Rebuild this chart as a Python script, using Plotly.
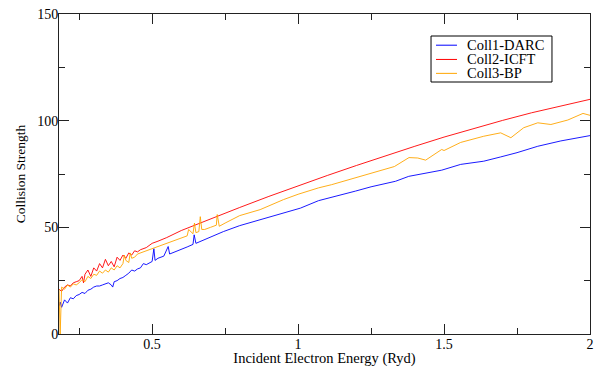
import plotly.graph_objects as go

# Coll1-DARC (blue)
x_darc = [0.181, 0.185, 0.19, 0.20, 0.21, 0.22, 0.23, 0.24, 0.25, 0.26, 0.27, 0.28, 0.29, 0.30,
          0.31, 0.32, 0.33, 0.34, 0.35, 0.36, 0.365, 0.37, 0.38, 0.39, 0.40, 0.41, 0.42, 0.43,
          0.44, 0.45, 0.46, 0.47, 0.48, 0.50, 0.506, 0.51, 0.52, 0.54, 0.555, 0.56, 0.58, 0.60,
          0.62, 0.64, 0.644, 0.65, 0.70, 0.744, 0.80, 0.871, 0.94, 1.008, 1.07, 1.115, 1.197,
          1.25, 1.29, 1.334, 1.379, 1.437, 1.492, 1.557, 1.636, 1.694, 1.75, 1.821, 1.9, 2.0]
y_darc = [13.0, 15.0, 12.5, 16.0, 14.5, 17.0, 16.5, 18.0, 18.5, 19.5, 19.0, 20.5, 21.0, 22.0,
          22.5, 22.5, 23.0, 23.5, 24.0, 23.0, 22.0, 24.5, 25.0, 26.0, 26.5, 27.5, 28.5, 30.0,
          29.5, 30.5, 31.0, 33.0, 32.5, 34.0, 40.0, 34.5, 35.5, 36.5, 41.0, 37.5, 38.5, 39.5,
          40.8, 42.0, 46.5, 42.5, 45.5, 48.0, 50.8, 53.6, 56.5, 59.0, 62.5, 64.0, 67.0,
          69.0, 70.3, 71.6, 73.9, 75.5, 76.8, 79.5, 81.0, 83.0, 85.0, 88.0, 90.5, 93.0]

# Coll2-ICFT (red)
x_icft = [0.181, 0.19, 0.20, 0.21, 0.22, 0.23, 0.24, 0.25, 0.26, 0.265, 0.27, 0.28, 0.29, 0.30,
          0.31, 0.32, 0.33, 0.34, 0.35, 0.36, 0.37, 0.38, 0.39, 0.40, 0.41, 0.42, 0.43, 0.44,
          0.45, 0.46, 0.48, 0.50, 0.52, 0.55, 0.60, 0.70, 0.80, 0.90, 1.0, 1.1, 1.2, 1.3, 1.4,
          1.5, 1.6, 1.7, 1.8, 1.9, 2.0]
y_icft = [21.0, 20.0, 22.0, 23.0, 22.5, 24.0, 24.5, 25.0, 27.0, 24.0, 28.0, 30.0, 27.0, 31.0,
          29.5, 33.0, 31.0, 35.0, 32.0, 34.0, 31.5, 36.0, 34.5, 37.0, 35.5, 38.0, 37.0, 39.0,
          38.5, 39.5, 40.5, 42.5, 43.5, 45.2, 48.5, 54.0, 59.3, 64.5, 69.5, 74.3, 79.0, 83.6, 88.0,
          92.3, 96.3, 100.1, 103.7, 107.0, 110.0]

# Coll3-BP (orange)
x_bp = [0.181, 0.185, 0.19, 0.20, 0.21, 0.22, 0.23, 0.24, 0.25, 0.26, 0.27, 0.28, 0.29, 0.30,
        0.31, 0.32, 0.33, 0.34, 0.35, 0.36, 0.37, 0.38, 0.39, 0.40, 0.405, 0.41, 0.42, 0.425,
        0.43, 0.44, 0.45, 0.46, 0.48, 0.50, 0.52, 0.55, 0.58, 0.60, 0.62, 0.625, 0.64, 0.645,
        0.65, 0.66, 0.665, 0.67, 0.68, 0.70, 0.72, 0.723, 0.73, 0.75, 0.80, 0.87, 0.95, 1.0,
        1.07, 1.115, 1.2, 1.29, 1.33, 1.38, 1.41, 1.437, 1.492, 1.5, 1.557, 1.636, 1.694,
        1.729, 1.773, 1.821, 1.866, 1.924, 1.976, 2.0]
y_bp = [21.0, 0.0, 22.0, 21.0, 23.0, 22.0, 23.5, 23.0, 24.0, 25.5, 24.5, 27.0, 26.0, 28.0,
        27.5, 29.5, 28.5, 30.0, 29.0, 31.0, 30.0, 32.0, 31.0, 33.0, 37.0, 34.5, 33.5, 38.0,
        35.5, 36.0, 37.5, 38.0, 39.0, 40.0, 41.0, 42.5, 44.0, 45.0, 46.0, 49.0, 47.0, 52.0,
        47.5, 48.0, 55.0, 49.0, 49.0, 50.0, 51.0, 56.0, 50.5, 52.0, 55.5, 58.3, 63.0, 65.5,
        68.5, 70.0, 73.5, 77.0, 78.5, 82.7, 82.5, 81.5, 86.5, 86.0, 89.8, 92.7, 94.3,
        92.0, 96.7, 99.0, 98.2, 100.3, 103.4, 102.5]

series_names = ["Coll1-DARC", "Coll2-ICFT", "Coll3-BP"]
series_colors = ["#0000ff", "#ff0000", "#ffa500"]

x_ticks = [0.5, 1.0, 1.5, 2.0]
x_tick_labels = ["0.5", "1", "1.5", "2"]
y_ticks = [0, 50, 100, 150]

FONT = "Liberation Serif"

fig = go.Figure()
for xs, ys, name, col in zip([x_darc, x_icft, x_bp], [y_darc, y_icft, y_bp],
                             series_names, series_colors):
    fig.add_trace(go.Scatter(x=xs, y=ys, mode="lines", name=name,
                             line=dict(color=col, width=0.9), showlegend=False))

# legend drawn as a boxed key in paper coordinates
shapes = [dict(type="rect", xref="paper", yref="paper", x0=0.7006, x1=0.9284,
               y0=0.7875, y1=0.93125, line=dict(color="black", width=1),
               fillcolor="white", layer="above")]
annotations = []
row_y = [0.9025, 0.858, 0.8145]
for ry, name, col in zip(row_y, series_names, series_colors):
    shapes.append(dict(type="line", xref="paper", yref="paper", x0=0.71, x1=0.7495,
                       y0=ry, y1=ry, line=dict(color=col, width=1), layer="above"))
    annotations.append(dict(xref="paper", yref="paper", x=0.765, y=ry, text=name,
                            showarrow=False, xanchor="left", yanchor="middle",
                            font=dict(family=FONT, size=14.5, color="black")))

axis_common = dict(
    showline=True, linecolor="#222", linewidth=1, mirror="allticks",
    ticks="inside", ticklen=10, tickcolor="#222", tickwidth=1,
    showgrid=False, zeroline=False,
    tickfont=dict(family=FONT, size=14, color="black"),
)

fig.update_layout(
    width=594, height=367,
    margin=dict(l=59, r=4, t=14, b=33),
    paper_bgcolor="white", plot_bgcolor="white",
    font=dict(family=FONT, color="black"),
    showlegend=False,
    shapes=shapes, annotations=annotations,
    xaxis=dict(range=[0.181, 2.0], tickvals=x_ticks, ticktext=x_tick_labels,
               minor=dict(ticks="inside", ticklen=6, dtick=0.25, tick0=0, tickcolor="#222"),
               title=dict(text="Incident Electron Energy (Ryd)",
                          font=dict(family=FONT, size=14.5), standoff=0),
               ticklabelstandoff=-3,
               automargin=False, **axis_common),
    yaxis=dict(range=[0, 150], tickvals=y_ticks,
               minor=dict(ticks="inside", ticklen=6, dtick=25, tick0=0, tickcolor="#222"),
               title=dict(text="Collision Strength",
                          font=dict(family=FONT, size=13.5), standoff=8),
               ticklabelstandoff=-3,
               automargin=False, **axis_common),
)

fig.write_html("out.html", config={"displayModeBar": False},
               post_script="document.body.style.margin='0';")
